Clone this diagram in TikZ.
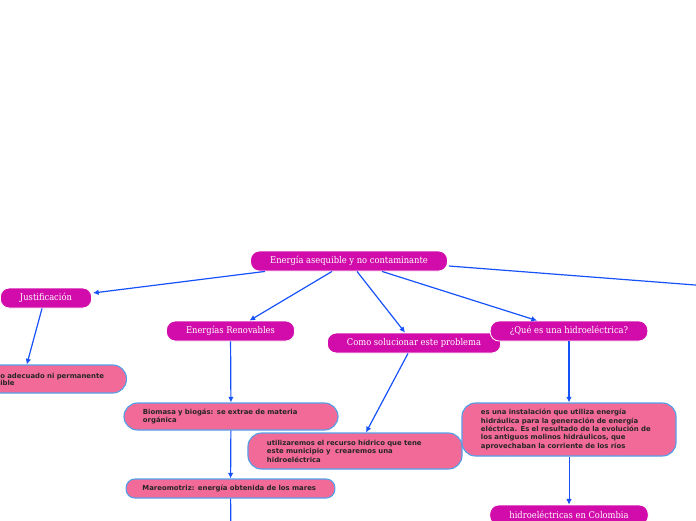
\documentclass[tikz,border=0pt]{standalone}
\usepackage{fontspec}
\newfontfamily\headfont{DejaVu Serif Condensed}
\newfontfamily\boxfont{DejaVu Sans}
\usetikzlibrary{arrows.meta,calc,positioning}
\definecolor{tema}{RGB}{210,12,170}
\definecolor{rosa}{RGB}{242,106,152}
\definecolor{borde}{RGB}{84,160,232}
\definecolor{flecha}{RGB}{22,82,250}
\tikzset{
  temabox/.style={fill=tema, draw=white, line width=0.6pt, rounded corners=0.22cm,
    text=white, minimum height=0.5cm, inner xsep=0.49cm, inner ysep=1pt,
    font=\headfont\fontsize{6.6}{8}\selectfont},
  ideabox/.style={fill=rosa, draw=borde, line width=0.8pt, rounded corners=0.34cm,
    text=black!85, text width=4.4cm, align=left, inner xsep=0.475cm, inner ysep=2pt,
    font=\boxfont\bfseries\fontsize{4.9}{6}\selectfont},
  conn/.style={draw=flecha, line width=0.85pt, -{Latex[length=4pt,width=4pt]}},
  connfree/.style={draw=flecha, line width=0.85pt}
}
\begin{document}
\begin{tikzpicture}[x=0.025cm, y=-0.025cm]
\useasboundingbox (0,0) rectangle (696,520);
\clip (0,0) rectangle (696,520);
% temas
\node[temabox] (raiz) at (349,261) {Energía asequible y no contaminante};
\node[temabox] (just) at (46,298) {Justificación};
\node[temabox] (renov) at (230.5,331) {Energías Renovables};
\node[temabox] (como) at (414,343) {Como solucionar este problema};
\node[temabox] (que) at (569,331) {¿Qué es una hidroeléctrica?};
\node[temabox] (colom) at (569,515) {hidroeléctricas en Colombia};
% ideas
\node[ideabox, text width=2.78cm, minimum height=0.7cm, anchor=east] (uso) at (127,379)
  {so adecuado ni permanente\\[-1pt]sible};
\node[ideabox, minimum height=0.675cm] (bio) at (231,416.5)
  {Biomasa y biogás: se extrae de materia\\ orgánica};
\node[ideabox, minimum height=0.9cm] (util) at (355,451)
  {utilizaremos el recurso hídrico que tene\\ este municipio y\ \ crearemos una\\ hidroeléctrica};
\node[ideabox, text width=4.4cm, inner xsep=0.41cm, rounded corners=0.22cm,
  minimum height=0.475cm] (mareo) at (230.5,488.5)
  {Mareomotriz: energía obtenida de los mares};
\node[ideabox, minimum height=1.325cm] (inst) at (569,429.5)
  {es una instalación que utiliza energía\\ hidráulica para la generación de energía\\ eléctrica. Es el resultado de la evolución de\\ los antiguos molinos hidráulicos, que\\ aprovechaban la corriente de los ríos};
% puntos fuera del marco
\coordinate (fuera) at (760,290);
\coordinate (abajo) at (231,540);
% conexiones
\draw[conn] ($(raiz.south)+(-84,0)$) -- ($(just.east)+(1,-5)$);
\draw[conn] ($(raiz.south)+(-17,0)$) -- ($(renov.north)+(19,0)$);
\draw[conn] ($(raiz.south)+(8,0)$) -- ($(como.north)+(-9,0)$);
\draw[conn] ($(raiz.south)+(33,0)$) -- ($(que.north)+(-32,0)$);
\draw[conn] ($(raiz.east)+(1,5)$) -- (fuera);
\draw[conn] ($(just.south)+(-4,0)$) -- ($(uso.north)+(-25,0)$);
\draw[conn] (renov) -- (bio);
\draw[conn] (bio) -- (mareo);
\draw[connfree] (mareo) -- (abajo);
\draw[conn] ($(como.south)+(-6,0)$) -- ($(util.north)+(11,0)$);
\draw[conn] (que) -- (inst);
\draw[conn, line width=0.6pt] (inst) -- (colom);
\end{tikzpicture}
\end{document}
